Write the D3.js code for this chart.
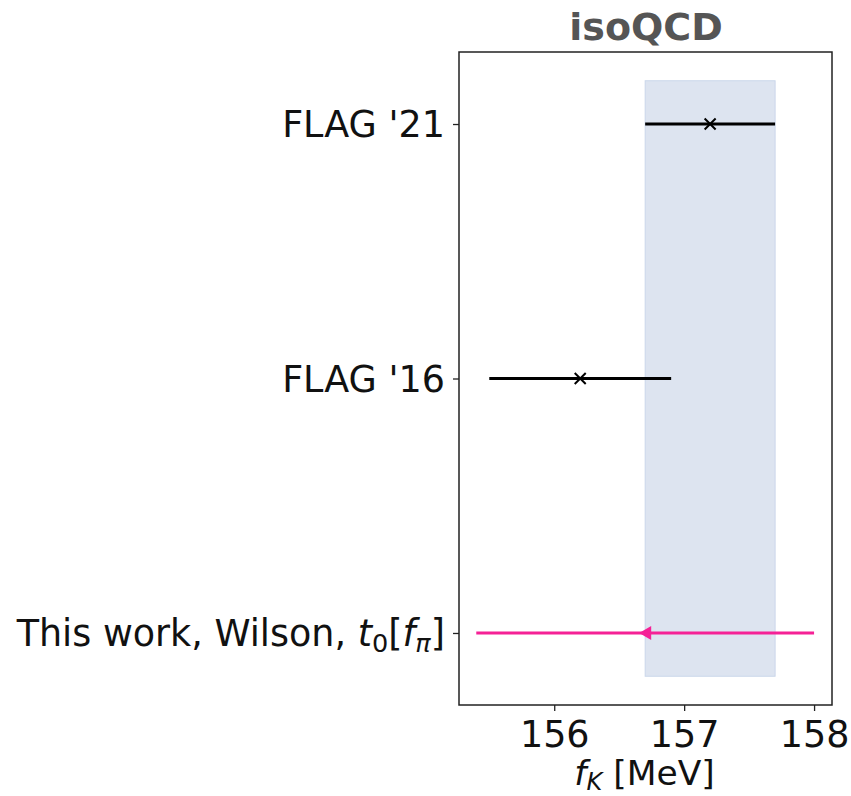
<!DOCTYPE html>
<html>
<head>
<meta charset="utf-8">
<script src="https://cdn.jsdelivr.net/npm/d3@7"></script>
<style>
  body { margin: 0; background: #fff; }
  text { font-family: "DejaVu Sans", sans-serif; }
</style>
</head>
<body>
<svg id="chart" width="851" height="796"></svg>
<script>
// ---- data ----
const categories = ["This work", "FLAG '16", "FLAG '21"];
const centers = [156.7, 156.2, 157.2];
const errLow = [1.3, 0.7, 0.5];
const errHigh = [1.3, 0.7, 0.5];
const markerTypes = ["triangle-left", "cross", "cross"];
const seriesColors = ["#f52196", "#000000", "#000000"];
const band = [156.7, 157.7];
const xTicks = [156, 157, 158];
const titleText = "isoQCD";

// ---- layout ----
const svg = d3.select("#chart");
const L = 459, R = 832, T = 52, B = 705;
const x = d3.scaleLinear().domain([155.267, 158.138]).range([L, R]);
const y = d3.scaleLinear().domain([-0.283, 2.283]).range([B, T]);

// band
svg.append("rect")
  .attr("x", x(band[0])).attr("width", x(band[1]) - x(band[0]))
  .attr("y", y(2.17)).attr("height", y(-0.17) - y(2.17))
  .attr("fill", "#dde4f0").attr("stroke", "#cad6ea").attr("stroke-width", 1);

// error bars and markers
categories.forEach((c, i) => {
  const yy = y(i);
  svg.append("line")
    .attr("x1", x(centers[i] - errLow[i])).attr("x2", x(centers[i] + errHigh[i]))
    .attr("y1", yy).attr("y2", yy)
    .attr("stroke", seriesColors[i]).attr("stroke-width", 3);
  const cx = x(centers[i]);
  if (markerTypes[i] === "cross") {
    const s = 5.5;
    svg.append("path")
      .attr("d", `M${cx - s},${yy - s}L${cx + s},${yy + s}M${cx - s},${yy + s}L${cx + s},${yy - s}`)
      .attr("stroke", seriesColors[i]).attr("stroke-width", 2).attr("fill", "none");
  } else {
    const w = 12, h = 7;
    svg.append("path")
      .attr("d", `M${cx - w / 2},${yy}L${cx + w / 2},${yy - h}L${cx + w / 2},${yy + h}Z`)
      .attr("fill", seriesColors[i]);
  }
});

// frame
svg.append("rect")
  .attr("x", L).attr("y", T).attr("width", R - L).attr("height", B - T)
  .attr("fill", "none").attr("stroke", "#222").attr("stroke-width", 1.5);

const fs = 36.5;

// x axis
const xAxis = d3.axisBottom(x).tickValues(xTicks).tickSize(6).tickPadding(10).tickFormat(d3.format("d"));
const gx = svg.append("g").attr("transform", `translate(0,${B})`).call(xAxis);
gx.select(".domain").remove();
gx.selectAll(".tick line").attr("stroke", "#222").attr("stroke-width", 1.3);
gx.selectAll(".tick text").attr("font-size", fs).attr("fill", "#111")
  .attr("font-family", "DejaVu Sans").attr("dy", null).attr("y", 42);

// y axis
const yAxis = d3.axisLeft(y).tickValues([0, 1, 2]).tickSize(6).tickFormat(() => "");
const gy = svg.append("g").attr("transform", `translate(${L},0)`).call(yAxis);
gy.select(".domain").remove();
gy.selectAll(".tick line").attr("stroke", "#222").attr("stroke-width", 1.3);

const labX = 445;
const base = 13.3;
// simple labels
[1, 2].forEach(i => {
  svg.append("text").attr("x", labX).attr("y", y(i) + base)
    .attr("text-anchor", "end").attr("font-size", fs).attr("fill", "#111")
    .text(categories[i]);
});
// math label
{
  const t = svg.append("text").attr("x", labX).attr("y", y(0) + base)
    .attr("text-anchor", "end").attr("font-size", fs).attr("fill", "#111");
  t.append("tspan").text(categories[0] + ", Wilson, ");
  t.append("tspan").attr("font-style", "italic").text("t");
  t.append("tspan").attr("font-size", fs * 0.7).attr("dy", 5.5).text("0");
  t.append("tspan").attr("dy", -5.5).text("[");
  t.append("tspan").attr("font-style", "italic").text("f");
  t.append("tspan").attr("font-style", "italic").attr("font-size", fs * 0.7).attr("dy", 5.5).text("π");
  t.append("tspan").attr("dy", -5.5).text("]");
}

// x label
{
  const lfs = 34.5;
  const t = svg.append("text").attr("x", (L + R) / 2 - 1).attr("y", 785)
    .attr("text-anchor", "middle").attr("font-size", lfs).attr("fill", "#111");
  t.append("tspan").attr("font-style", "italic").text("f");
  t.append("tspan").attr("font-style", "italic").attr("font-size", lfs * 0.7).attr("dy", 5).text("K");
  t.append("tspan").attr("dy", -5).text(" [MeV]");
}

// title
svg.append("text").attr("x", (L + R) / 2 + 0.5).attr("y", 40)
  .attr("text-anchor", "middle").attr("font-size", 38).attr("font-weight", "bold")
  .attr("fill", "#555").text(titleText);
</script>
</body>
</html>
